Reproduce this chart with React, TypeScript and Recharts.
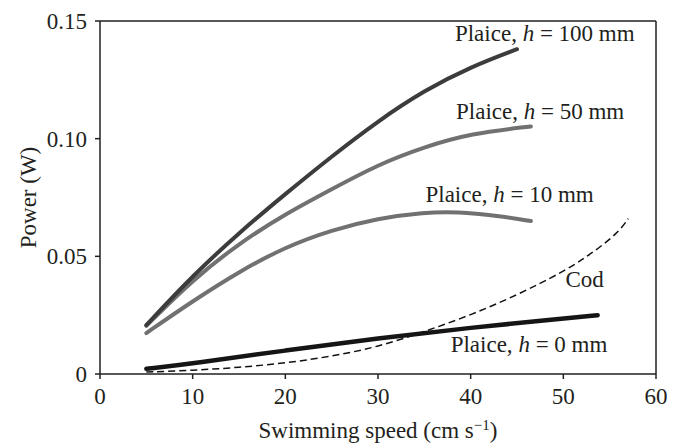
import React from 'react';
import { LineChart, Line, XAxis, YAxis, ReferenceLine, ReferenceDot } from 'recharts';

const speedH100 = [5, 10, 15, 20, 25, 30, 35, 40, 45];
const powerH100 = [0.0208, 0.0418, 0.060, 0.0765, 0.0925, 0.1075, 0.1205, 0.1305, 0.138];

const speedH50 = [5, 10, 15, 20, 25, 30, 35, 40, 46.5];
const powerH50 = [0.0205, 0.040, 0.0555, 0.068, 0.0785, 0.089, 0.0965, 0.1022, 0.1052];

const speedH10 = [5, 10, 15, 20, 25, 30, 35, 38.5, 43, 46.5];
const powerH10 = [0.0174, 0.031, 0.0435, 0.054, 0.0612, 0.0662, 0.0687, 0.069, 0.0672, 0.065];

const speedH0 = [5, 10, 20, 30, 40, 50, 53.7];
const powerH0 = [0.0022, 0.0045, 0.0100, 0.0152, 0.0197, 0.0236, 0.025];

const speedCod = [5, 10, 15, 20, 25, 30, 35, 40, 45, 50, 52, 54, 56, 57];
const powerCod = [0.0008, 0.0015, 0.0028, 0.0046, 0.0075, 0.0115, 0.018, 0.025, 0.0335, 0.0435, 0.0485, 0.054, 0.0605, 0.066];

const xTicks = [0, 10, 20, 30, 40, 50, 60];
const yTicks = [0, 0.05, 0.1, 0.15];
const yTickLabels = ['0', '0.05', '0.10', '0.15'];

const labels = [
  { x: 48.0, y: 0.1415, pre: 'Plaice, ', h: 'h', post: ' = 100 mm' },
  { x: 47.5, y: 0.1084, pre: 'Plaice, ', h: 'h', post: ' = 50 mm' },
  { x: 44.2, y: 0.0731, pre: 'Plaice, ', h: 'h', post: ' = 10 mm' },
  { x: 52.3, y: 0.037, pre: 'Cod', h: '', post: '' },
  { x: 46.3, y: 0.0093, pre: 'Plaice, ', h: 'h', post: ' = 0 mm' },
];

const zip = (xs: number[], ys: number[]) => xs.map((x, i) => ({ x, y: ys[i] }));

const FONT = 'Liberation Serif';
const FS = 23;
const INK = '#231f20';
const textStyle = { fontFamily: FONT, fontSize: FS };

const XTitle = (props: any) => {
  const vb = props.viewBox || {};
  return (
    <text x={vb.x + vb.width / 2} y={438} textAnchor="middle" style={textStyle} fill={INK}>
      Swimming speed (cm s
      <tspan dy={-8} style={{ fontSize: 15 }}>−1</tspan>
      <tspan dy={8}>)</tspan>
    </text>
  );
};

const YTitle = (props: any) => {
  const vb = props.viewBox || {};
  const cy = vb.y + vb.height / 2;
  return (
    <text x={36} y={cy} transform={`rotate(-90, 36, ${cy})`} textAnchor="middle" style={textStyle} fill={INK}>
      Power (W)
    </text>
  );
};

export default function App() {
  return (
    <div style={{ position: 'absolute', left: 0, top: 0, background: '#fff' }}>
      <LineChart width={684} height={447} margin={{ top: 21, right: 28, bottom: 33, left: 40 }}>
        <XAxis
          type="number"
          dataKey="x"
          domain={[0, 60]}
          ticks={xTicks}
          tickSize={5}
          tickMargin={9}
          stroke={INK}
          strokeWidth={1.5}
          tick={{ fill: INK, fontSize: FS, fontFamily: FONT, style: textStyle }}
          height={40}
          allowDataOverflow
          label={<XTitle />}
        />
        <YAxis
          type="number"
          dataKey="y"
          domain={[0, 0.15]}
          ticks={yTicks}
          tickFormatter={(v: number) => yTickLabels[yTicks.indexOf(v)] ?? String(v)}
          tickSize={5}
          tickMargin={8}
          stroke={INK}
          strokeWidth={1.5}
          tick={{ fill: INK, fontSize: FS, fontFamily: FONT, style: textStyle }}
          width={60}
          allowDataOverflow
          label={<YTitle />}
        />
        <ReferenceLine y={0.15} stroke={INK} strokeWidth={1.5} />
        <ReferenceLine x={60} stroke={INK} strokeWidth={1.5} />
        <Line data={zip(speedCod, powerCod)} dataKey="y" type="basis" stroke="#111" strokeWidth={1.5} strokeDasharray="7 4" dot={false} isAnimationActive={false} />
        <Line data={zip(speedH0, powerH0)} dataKey="y" type="basis" stroke="#151515" strokeWidth={4.5} strokeLinecap="round" dot={false} isAnimationActive={false} />
        <Line data={zip(speedH10, powerH10)} dataKey="y" type="basis" stroke="#717171" strokeWidth={4} strokeLinecap="round" dot={false} isAnimationActive={false} />
        <Line data={zip(speedH50, powerH50)} dataKey="y" type="basis" stroke="#717171" strokeWidth={4} strokeLinecap="round" dot={false} isAnimationActive={false} />
        <Line data={zip(speedH100, powerH100)} dataKey="y" type="basis" stroke="#3c3c3c" strokeWidth={4} strokeLinecap="round" dot={false} isAnimationActive={false} />
        {labels.map((l, i) => (
          <ReferenceDot
            key={i}
            x={l.x}
            y={l.y}
            r={1}
            shape={(p: any) => (
              <text x={p.cx} y={p.cy} textAnchor="middle" style={textStyle} fill={INK}>
                {l.pre}
                {l.h ? <tspan style={{ fontStyle: 'italic' }}>{l.h}</tspan> : null}
                {l.post}
              </text>
            )}
          />
        ))}
      </LineChart>
    </div>
  );
}
